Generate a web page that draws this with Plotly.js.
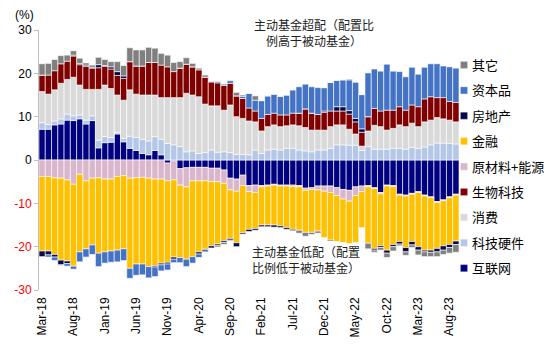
<!DOCTYPE html>
<html>
<head>
<meta charset="utf-8">
<script src="https://cdn.plot.ly/plotly-3.0.1.min.js"></script>
<style>html,body{margin:0;padding:0;background:#fff;}#chart{width:550px;height:349px;}</style>
</head>
<body>
<div id="chart"></div>
<script>
var months = ["Mar-18","Apr-18","May-18","Jun-18","Jul-18","Aug-18","Sep-18","Oct-18","Nov-18","Dec-18",
"Jan-19","Feb-19","Mar-19","Apr-19","May-19","Jun-19","Jul-19","Aug-19","Sep-19","Oct-19","Nov-19","Dec-19",
"Jan-20","Feb-20","Mar-20","Apr-20","May-20","Jun-20","Jul-20","Aug-20","Sep-20","Oct-20","Nov-20","Dec-20",
"Jan-21","Feb-21","Mar-21","Apr-21","May-21","Jun-21","Jul-21","Aug-21","Sep-21","Oct-21","Nov-21","Dec-21",
"Jan-22","Feb-22","Mar-22","Apr-22","May-22","Jun-22","Jul-22","Aug-22","Sep-22","Oct-22","Nov-22","Dec-22",
"Jan-23","Feb-23","Mar-23","Apr-23","May-23","Jun-23","Jul-23","Aug-23","Sep-23"];
var tickLabels = ["Mar-18","Aug-18","Jan-19","Jun-19","Nov-19","Apr-20","Sep-20","Feb-21","Jul-21","Dec-21","May-22","Oct-22","Mar-23","Aug-23"];
var yTickVals = [-30,-20,-10,0,10,20,30];
var yTickText = ['<span style="color:#FF0000">-30</span>','<span style="color:#FF0000">-20</span>','<span style="color:#FF0000">-10</span>','0','10','20','30'];

// 互联网
var internet = [7.1,7.1,8.1,8.3,9.2,9.1,9.5,8.3,9.1,2.8,4.0,4.1,6.0,4.2,2.7,2.2,1.5,1.2,2.2,1.2,
-0.7,-0.2,-2.0,-1.8,-1.7,-1.7,-1.7,-1.9,-1.9,-2.3,-4.2,-4.4,-3.5,
-5.9,-5.8,-5.9,-5.8,-5.6,-5.8,-5.8,-5.8,-5.9,-6.5,-6.4,-6.0,-6.0,-6.0,-6.4,-6.8,-7.0,-6.2,-6.0,
-5.9,-6.4,-7.5,-5.8,-5.9,-7.9,-8.1,-7.7,-7.3,-8.1,-8.5,-9.6,-9.2,-8.5,-7.9];
// 科技硬件
var techHardware = [1.5,1.1,0.9,1.2,1.4,1.1,0.9,0.9,1.1,1.8,1.4,1.1,0.4,0.8,2.8,3.0,3.3,3.2,3.2,3.6,
3.8,3.5,3.1,1.9,2.1,1.5,1.7,2.3,1.8,1.9,1.7,1.3,1.3,
1.2,2.3,1.5,2.3,2.5,2.3,2.7,2.7,2.3,2.1,1.9,2.3,2.3,2.7,3.5,3.5,3.4,3.4,2.2,
3.1,2.5,2.5,2.5,2.7,2.7,2.5,2.9,2.7,3.0,3.5,3.9,3.9,3.8,3.7];
// 消费
var consumer = [7.2,7.0,7.2,8.2,8.0,8.9,6.9,7.1,6.1,11.7,11.9,11.3,8.6,8.8,10.7,10.0,10.2,10.6,9.6,9.6,
10.6,10.9,11.3,13.5,12.9,13.1,11.2,10.2,10.7,9.6,11.0,8.7,8.3,
7.8,6.5,5.2,5.4,5.6,5.4,5.2,5.4,5.6,5.4,5.0,4.6,4.6,5.0,4.6,4.6,3.7,2.6,1.0,
3.6,5.5,5.2,4.4,4.6,5.4,5.2,5.6,5.0,5.8,5.7,5.9,5.6,5.4,5.1];
// 生物科技
var biotech = [3.8,4.4,4.4,4.5,4.2,4.9,4.7,5.3,4.9,5.0,4.3,4.5,4.5,5.0,6.5,6.5,6.7,7.5,7.5,7.5,
7.1,6.0,6.8,6.7,6.5,6.2,6.2,5.5,5.3,5.7,5.0,4.8,4.6,
3.0,2.5,2.9,2.8,2.7,2.7,2.5,2.7,2.9,4.3,3.9,3.6,4.1,3.6,3.2,3.2,3.5,2.8,3.2,
3.3,3.9,3.6,4.6,4.2,4.2,3.8,4.2,4.6,5.3,5.4,4.6,4.9,4.3,4.5];
// 原材料+能源
var materials = [-3.8,-3.8,-4.1,-4.2,-4.6,-5.6,-3.3,-4.8,-4.2,-4.1,-4.4,-4.4,-3.8,-3.6,-4.2,-4.1,-4.0,-4.2,-4.4,-4.4,
-4.1,-4.4,-3.8,-4.4,-3.1,-3.1,-3.1,-3.1,-3.1,-3.1,-2.7,-2.8,-2.4,
-1.4,-1.7,-0.3,-0.2,-0.2,-0.2,-0.2,-0.3,-0.3,-0.5,-0.4,-0.9,-1.2,-1.5,-1.8,-2.2,-2.5,-2.0,-1.3,
-0.3,-0.2,-0.3,-0.2,-0.2,-0.2,-0.2,-0.2,-0.2,-0.2,-0.2,-0.2,-0.2,-0.2,-0.2];
// 金融
var finance = [-17.2,-17.2,-17.7,-18.9,-18.7,-18.9,-17.9,-15.7,-15.4,-17.4,-16.8,-16.6,-17.0,-16.9,-20.8,-19.9,-20.0,-20.4,-20.0,-19.4,
-18.8,-17.8,-16.7,-16.7,-17.5,-16.4,-15.8,-14.8,-14.4,-13.2,-11.2,-11.9,-10.9,
-8.7,-8.3,-8.8,-9.0,-9.2,-9.2,-9.6,-9.9,-10.0,-9.7,-9.9,-9.5,-10.7,-11.0,-10.6,-10.0,-9.8,-10.8,-8.3,
-13.0,-13.8,-12.0,-14.8,-13.4,-10.7,-11.9,-10.9,-12.5,-12.5,-12.1,-10.6,-10.4,-10.8,-10.6];
// 房地产
var realEstate = [-1.3,-0.9,-0.6,-1.1,-0.6,0.2,0.3,0.3,0.2,0.7,0.2,0.5,0.9,0.6,0,0,0,0,-0.3,-0.4,
-0.4,-0.5,0,0,0,-0.5,0,-0.5,-0.4,-0.4,-0.4,-0.9,-0.3,
-0.5,-0.4,-0.4,-0.4,-0.5,-0.4,-0.4,-0.3,0,0,0,0,0.3,-0.2,1.0,1.0,0.8,0.8,0.8,
0,-0.4,-0.4,-0.7,-0.5,-0.6,-1.0,-0.8,-0.8,-0.4,-0.5,-0.8,-1.0,-0.7,-0.8];
// 资本品
var capitalGoods = [0,-0.5,-0.8,-0.1,-0.6,-0.7,-2.3,-1.9,-2.2,-3.1,-2.6,-2.6,-2.7,-2.7,-2.3,-2.6,-2.5,-2.6,-2.2,-1.4,
-1.4,-0.8,-1.2,-1.7,-1.5,-0.8,-0.6,0.2,0.3,0.3,0.6,0,0.5,
3.4,2.5,4.1,4.3,4.4,4.3,4.6,5.4,6.1,5.7,6.1,6.2,5.4,6.6,6.1,6.2,7.1,8.4,7.9,
10.1,9.1,9.2,10.6,9.0,8.1,7.7,8.7,7.5,7.3,7.6,7.8,7.3,8.0,7.9];
// 其它
var others = [2.6,2.7,2.6,1.9,1.4,1.0,1.2,0.5,0.5,1.7,1.4,1.2,2.3,2.4,3.2,3.7,3.7,3.5,3.3,2.7,
2.7,2.1,1.5,1.5,0.8,0.4,0.5,0,-0.3,-0.5,-0.2,0.8,0.3,
0,1.0,0,0,0,0,0,0,-0.7,-0.9,-0.5,-0.5,0,0,0,0,0.2,0,0,
-1.3,-0.5,-0.6,-1.0,-1.0,-0.4,-0.8,-0.6,-1.1,-1.1,-1.0,-1.1,-1.0,-1.3,-1.8];

var seriesNames = ["互联网","科技硬件","消费","生物科技","原材料+能源","金融","房地产","资本品","其它"];
var seriesData = [internet, techHardware, consumer, biotech, materials, finance, realEstate, capitalGoods, others];
var seriesColors = ["#000080","#B4C7E7","#D9D9D9","#800000","#D9B6CB","#FFC000","#0A0A4A","#4472C4","#808080"];

var traces = seriesNames.map(function(n, i){
  return {
    type: 'bar', name: n, x: months, y: seriesData[i],
    legendgroup: 'g' + i,
    legendrank: 100 - i,
    marker: {color: seriesColors[i], line: {color: '#FFFFFF', width: 0.6}},
    hoverinfo: 'x+y+name'
  };
});

var fontLatin = 'Liberation Sans, Arial, sans-serif';
var fontCJK = 'Noto Sans CJK SC, Liberation Sans, sans-serif';

var layout = {
  width: 550, height: 349,
  margin: {l: 39, r: 91, t: 30, b: 59, autoexpand: false},
  paper_bgcolor: '#FFFFFF', plot_bgcolor: '#FFFFFF',
  barmode: 'relative', bargap: 0,
  showlegend: true,
  legend: {
    x: (432 - 39) / 420, xanchor: 'left', y: 0.923, yanchor: 'top',
    traceorder: 'grouped', tracegroupgap: 5.5,
    font: {family: fontCJK, size: 13, color: '#000000'},
    bgcolor: 'rgba(0,0,0,0)', borderwidth: 0
  },
  xaxis: {
    type: 'category', range: [-0.5, 66.5],
    tickmode: 'array', tickvals: tickLabels, ticktext: tickLabels,
    tickangle: -90, tickfont: {family: fontLatin, size: 12, color: '#000000'},
    ticklabelstandoff: 4,
    showline: false, showgrid: false, zeroline: false, ticks: '',
    fixedrange: true
  },
  yaxis: {
    range: [-30, 30], tickmode: 'array', tickvals: yTickVals, ticktext: yTickText,
    tickfont: {family: fontLatin, size: 12, color: '#000000'},
    showline: true, linecolor: '#BFBFBF', linewidth: 1,
    ticks: 'outside', ticklen: 4, tickcolor: '#BFBFBF',
    showgrid: false, zeroline: false, fixedrange: true
  },
  annotations: [
    {xref: 'paper', yref: 'paper', x: (24 - 39) / 420, y: (290 - 15) / 260, xanchor: 'center', yanchor: 'middle',
     text: '(%)', showarrow: false, font: {family: fontLatin, size: 12, color: '#000000'}},
    {xref: 'paper', yref: 'paper', x: (314 - 39) / 420, y: (290 - 33) / 260, xanchor: 'center', yanchor: 'middle',
     text: '主动基金超配（配置比<br>例高于被动基金）', align: 'center', showarrow: false,
     font: {family: fontCJK, size: 12, color: '#222222'}},
    {xref: 'paper', yref: 'paper', x: (250 - 39) / 420, y: (290 - 259) / 260, xanchor: 'left', yanchor: 'middle',
     text: '主动基金低配（配置<br>比例低于被动基金）', align: 'left', showarrow: false,
     font: {family: fontCJK, size: 12, color: '#222222'}}
  ]
};

Plotly.newPlot('chart', traces, layout, {displayModeBar: false, staticPlot: true}).then(function(gd){
  // smaller legend swatches placed close to the legend text, as in the original
  var pts = gd.querySelectorAll('.legend .legendpoints path');
  pts.forEach(function(p){
    var t = p.getAttribute('transform') || '';
    p.setAttribute('transform', t + ' translate(12,0) scale(0.6)');
  });
});
</script>
</body>
</html>
